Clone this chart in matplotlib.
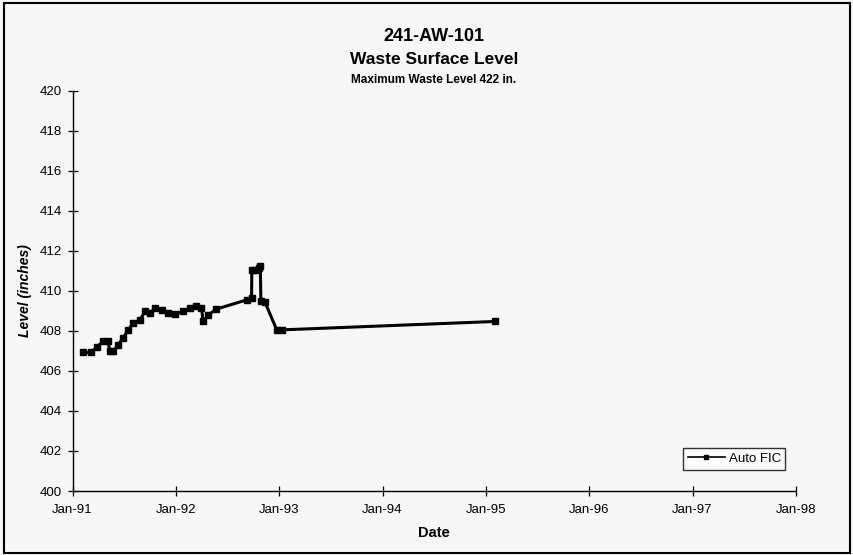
import matplotlib
matplotlib.use("Agg")
import matplotlib.pyplot as plt
import matplotlib.dates as mdates
import pandas as pd
from matplotlib.patches import Rectangle

plt.rcParams["font.family"] = ["Liberation Sans", "DejaVu Sans"]

# Auto FIC readings (level in inches)
dates = [
    "1991-02-08", "1991-03-09", "1991-03-27", "1991-04-19", "1991-05-07",
    "1991-05-13", "1991-05-25", "1991-06-11", "1991-06-29", "1991-07-17",
    "1991-08-04", "1991-08-28", "1991-09-14", "1991-10-02", "1991-10-19",
    "1991-11-12", "1991-12-05", "1991-12-29", "1992-01-27", "1992-02-20",
    "1992-03-14", "1992-04-01", "1992-04-07", "1992-04-25", "1992-05-24",
    "1992-09-08", "1992-09-25", "1992-09-26", "1992-10-07", "1992-10-20",
    "1992-10-26", "1992-10-28", "1992-11-12", "1992-12-23", "1993-01-10",
    "1995-02-02",
]
levels = [
    406.92, 406.92, 407.19, 407.47, 407.47,
    406.97, 406.97, 407.30, 407.64, 408.05,
    408.39, 408.55, 408.97, 408.89, 409.14,
    409.05, 408.89, 408.85, 408.97, 409.14,
    409.25, 409.14, 408.47, 408.80, 409.09,
    409.55, 409.64, 411.05, 411.05, 411.15,
    411.22, 409.47, 409.42, 408.05, 408.05,
    408.47,
]

x_ticks = ["1991-01-01", "1992-01-01", "1993-01-01", "1994-01-01",
           "1995-01-01", "1996-01-01", "1997-01-01", "1998-01-01"]
y_ticks = list(range(400, 421, 2))

bg = "#f7f7f7"
fig = plt.figure(figsize=(8.54, 5.55), dpi=100, facecolor=bg)
ax = fig.add_axes([0.0849, 0.1153, 0.8469, 0.7213], facecolor=bg)

# outer chart frame
fig.patches.append(Rectangle((0.005, 0.004), 0.99, 0.99, transform=fig.transFigure,
                             fill=False, edgecolor="black", linewidth=1.5))

ax.plot(pd.to_datetime(dates), levels, color="black", lw=2.2, marker="s",
        markersize=4.5, label="Auto FIC")

xt = pd.to_datetime(x_ticks)
ax.set_xlim(xt[0], xt[-1])
ax.set_xticks(xt)
ax.xaxis.set_major_formatter(mdates.DateFormatter("%b-%y"))
ax.set_ylim(400, 420)
ax.set_yticks(y_ticks)

for s in ["top", "right"]:
    ax.spines[s].set_visible(False)
for s in ["left", "bottom"]:
    ax.spines[s].set_linewidth(1.0)
ax.tick_params(axis="both", direction="inout", length=7, width=0.9,
               labelsize=9.5, colors="black")
ax.tick_params(axis="x", pad=6)
ax.tick_params(axis="y", pad=4)

ax.set_xlabel("Date", fontsize=10.5, fontweight="bold", labelpad=7)
ax.set_ylabel("Level (inches)", fontsize=10, fontweight="bold",
              fontstyle="italic", labelpad=6)

fig.text(0.508, 0.935, "241-AW-101", ha="center", va="center",
         fontsize=13, fontweight="bold")
fig.text(0.508, 0.893, "Waste Surface Level", ha="center", va="center",
         fontsize=12.5, fontweight="bold")
fig.text(0.508, 0.855, "Maximum Waste Level 422 in.", ha="center", va="center",
         fontsize=8.5, fontweight="bold")

leg = ax.legend(loc="center", bbox_to_anchor=(0.915, 0.08), fontsize=9.5,
                frameon=True, fancybox=False, edgecolor="black",
                facecolor="white", handlelength=2.8, borderpad=0.35,
                handletextpad=0.3, markerscale=0.6)
leg.get_frame().set_linewidth(1.0)
leg.get_lines()[0].set_linewidth(1.2)

fig.savefig("out.png", dpi=100, facecolor=bg)
